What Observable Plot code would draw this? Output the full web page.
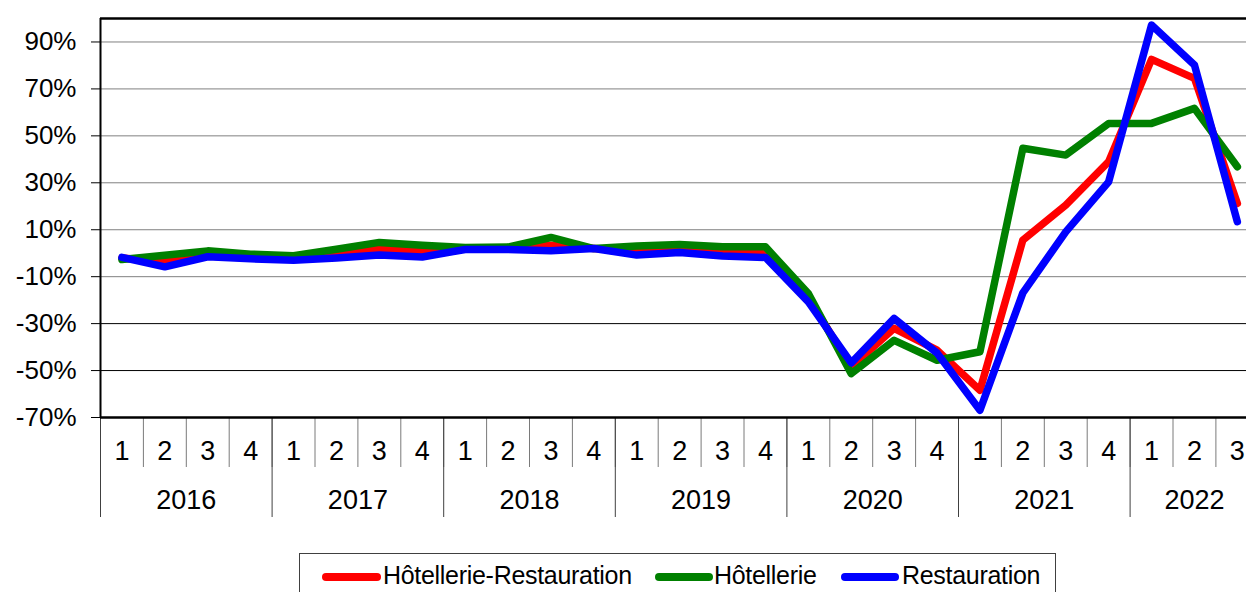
<!DOCTYPE html>
<html>
<head>
<meta charset="utf-8">
<script src="https://cdn.jsdelivr.net/npm/d3@7"></script>
<script src="https://cdn.jsdelivr.net/npm/@observablehq/plot@0.6"></script>
<style>
  html, body { margin: 0; padding: 0; background: #fff; }
  body { width: 1246px; height: 592px; position: relative; overflow: hidden; font-family: "Liberation Sans", Arial, sans-serif; }
  #chart { position: absolute; left: 0; top: 0; }
  #legend { position: absolute; left: 299px; top: 553px; width: 757px; height: 60px; border: 1px solid #404040; box-sizing: border-box; background: #fff; }
  .sw { position: absolute; height: 8px; border-radius: 4px; top: 19px; }
  .lt { position: absolute; font-size: 25px; line-height: 25px; top: 9px; letter-spacing: -0.3px; color: #000; white-space: nowrap; }
</style>
</head>
<body>
<div id="chart"></div>
<div id="legend"></div>
<script>
// ---- Data ----
const quarterLabels = ["1","2","3","4","1","2","3","4","1","2","3","4","1","2","3","4","1","2","3","4","1","2","3","4","1","2","3"];
const yearLabels = ["2016","2017","2018","2019","2020","2021","2022"];
const yTicks = [-70, -50, -30, -10, 10, 30, 50, 70, 90];

const seriesNames = ["Hôtellerie-Restauration", "Hôtellerie", "Restauration"];
const seriesColors = ["#ff0000", "#008000", "#0000ff"];

const hotellerieRestauration = [-2, -3.7, -1.2, -2, -2.5, -1, 1.9, 1, 2, 2.2, 3.4, 2, 1, 1.5, 0.5, 0, -19, -48.5, -32, -41.3, -58.4, 5.6, 20.5, 39, 82.6, 74.5, 21.2];
const hotellerie = [-2.7, -0.9, 1, -0.4, -1.1, 1.7, 4.6, 3.4, 2.4, 2.6, 6.7, 2, 3.1, 3.7, 2.7, 2.7, -17.2, -51.3, -37.1, -45.6, -42, 44.7, 41.8, 55.3, 55.3, 61.7, 36.8];
const restauration = [-1.8, -5.8, -1.5, -2.4, -3, -2, -0.8, -1.6, 1.6, 1.6, 1, 2, -0.8, 0.3, -1.2, -1.8, -20.7, -46.7, -27.8, -42.5, -66.9, -16.9, 9.1, 30.4, 97.2, 80.2, 13.4];

const seriesValues = [hotellerieRestauration, hotellerie, restauration];

// ---- Derived structures ----
const n = quarterLabels.length;
const yearStarts = quarterLabels.map((q, i) => q === "1" ? i : -1).filter(i => i >= 0);
const years = yearLabels.map((label, k) => {
  const start = yearStarts[k];
  const end = k + 1 < yearStarts.length ? yearStarts[k + 1] : n;
  return { label, start, mid: (start + end) / 2 };
});

const rows = [];
seriesNames.forEach((name, s) => {
  seriesValues[s].forEach((v, i) => rows.push({ series: name, idx: i + 0.5, value: v }));
});

const bandW = 42.9;
const chart = Plot.plot({
  width: 1246,
  height: 545,
  marginLeft: 100,
  marginRight: 0,
  marginTop: 18,
  marginBottom: 128,
  style: { fontFamily: "'Liberation Sans', Arial, sans-serif", fontSize: "26px", color: "#000", background: "#fff", overflow: "hidden" },
  x: { type: "linear", domain: [0, n], range: [100, 100 + n * bandW], axis: null },
  y: { domain: [-70, 100], axis: null },
  marks: [
    Plot.ruleY(yTicks.filter(t => t > -70), { y: d => d, stroke: d => d >= -10 ? "#808080" : "#000", strokeWidth: 1 }),
    Plot.axisY(yTicks, { label: null, tickSize: 9, tickPadding: 15, tickFormat: d => `${d}%`, fontSize: 26, stroke: "#000" }),
    // quarter separators
    Plot.axisX(d3.range(0, n), { label: null, anchor: "bottom", tickSize: 50, tickFormat: () => "", stroke: "#7a7a7a", strokeWidth: 1 }),
    // year separators
    Plot.axisX(years.map(y => y.start), { label: null, anchor: "bottom", tickSize: 100, tickFormat: () => "", stroke: "#404040", strokeWidth: 1 }),
    // quarter labels
    Plot.text(quarterLabels, { x: (d, i) => i + 0.5, text: d => d, frameAnchor: "bottom", lineAnchor: "middle", dy: 34, fontSize: 27, fill: "#000" }),
    // year labels
    Plot.text(years, { x: d => d.mid, text: d => d.label, frameAnchor: "bottom", lineAnchor: "middle", dy: 83, fontSize: 27, fill: "#000" }),
    // frame
    Plot.ruleY([100], { stroke: "#000", strokeWidth: 2.5 }),
    Plot.ruleY([-70], { stroke: "#000", strokeWidth: 2.5 }),
    Plot.ruleX([0], { stroke: "#000", strokeWidth: 2 }),
    // lines, drawn in series order (last on top)
    ...seriesNames.map((name, s) =>
      Plot.line(rows.filter(r => r.series === name), {
        x: "idx", y: "value", stroke: seriesColors[s], strokeWidth: 7.5,
        strokeLinecap: "round", strokeLinejoin: "round"
      })
    )
  ]
});
document.getElementById("chart").appendChild(chart);

// ---- Legend ----
const legend = document.getElementById("legend");
const swatchLeft = [22, 355, 541];
const textLeft = [83, 414, 602];
const swatchWidth = [59, 58, 58];
seriesNames.forEach((name, s) => {
  const sw = document.createElement("div");
  sw.className = "sw";
  sw.style.left = swatchLeft[s] + "px";
  sw.style.width = swatchWidth[s] + "px";
  sw.style.background = seriesColors[s];
  legend.appendChild(sw);
  const t = document.createElement("div");
  t.className = "lt";
  t.style.left = textLeft[s] + "px";
  t.textContent = name;
  legend.appendChild(t);
});
</script>
</body>
</html>
